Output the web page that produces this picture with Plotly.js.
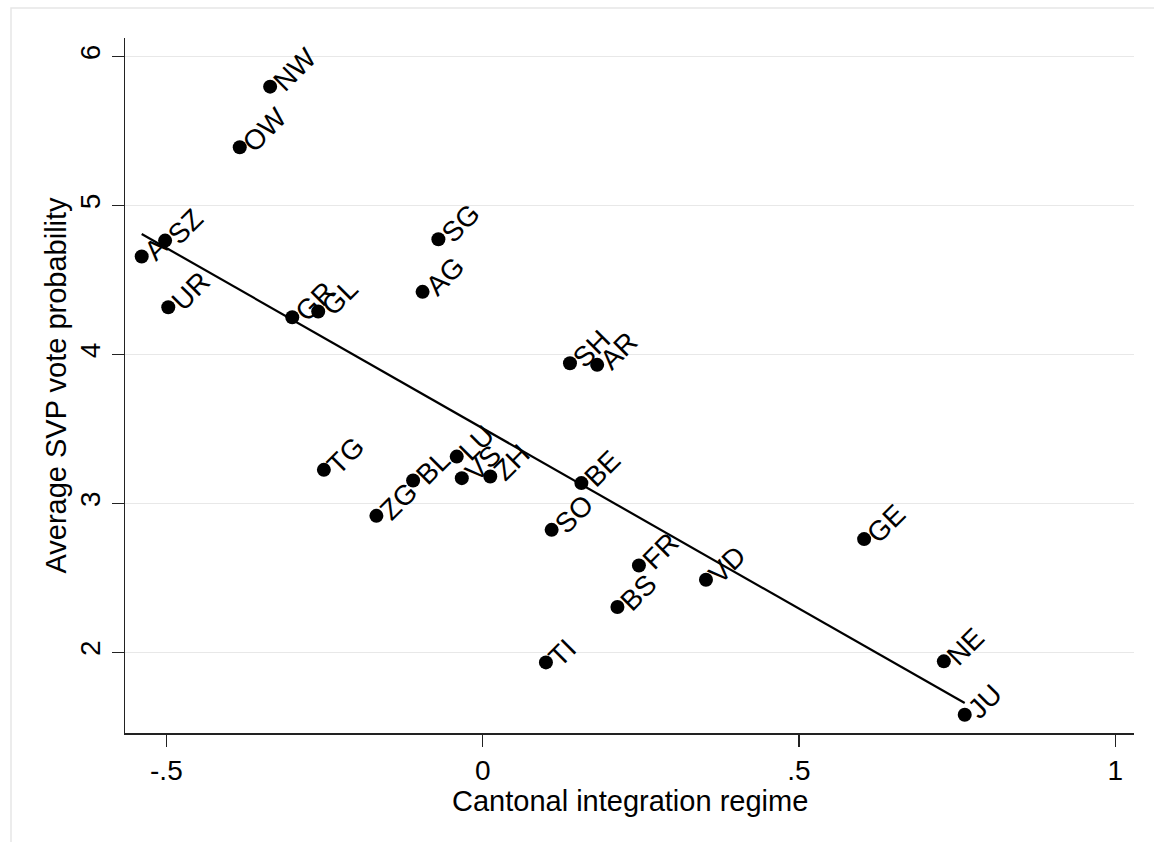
<!DOCTYPE html>
<html>
<head>
<meta charset="utf-8">
<script src="https://cdn.plot.ly/plotly-3.0.1.min.js"></script>
<style>
  html, body { margin: 0; padding: 0; background: #ffffff; }
  #chart { width: 1154px; height: 842px; }
</style>
</head>
<body>
<div id="chart"></div>
<script>
// ---- Data ----
const cantons = ["A","SZ","NW","OW","UR","GR","GL","SG","AG","SH","AR","TG","ZG","BL","LU","VS","ZH","BE","SO","FR","BS","TI","VD","GE","NE","JU"];
const integrationRegime = [-0.539,-0.502,-0.336,-0.384,-0.497,-0.301,-0.260,-0.070,-0.095,0.138,0.181,-0.251,-0.168,-0.110,-0.041,-0.033,0.012,0.156,0.109,0.247,0.213,0.100,0.353,0.603,0.729,0.762];
const svpProbability = [4.658,4.765,5.799,5.392,4.318,4.251,4.289,4.774,4.421,3.942,3.931,3.226,2.917,3.154,3.315,3.170,3.181,3.137,2.823,2.584,2.305,1.933,2.488,2.761,1.940,1.582];
const fitX = [-0.539, 0.762];
const fitY = [4.810, 1.660];
const xTickVals = [-0.5, 0, 0.5, 1];
const xTickText = ["-.5", "0", ".5", "1"];
const yTickVals = [2, 3, 4, 5, 6];
const yTickText = ["2", "3", "4", "5", "6"];
const xTitle = "Cantonal integration regime";
const yTitle = "Average SVP vote probability";

// ---- Styling ----
const FONT = "Liberation Sans, Arial, sans-serif";
const FS = 28;
const TITLE_FS = 29;
const LABEL_FS = 28;

const canvas = document.createElement("canvas");
const ctx = canvas.getContext("2d");
ctx.font = LABEL_FS + "px 'Liberation Sans'";
const c45 = Math.SQRT1_2;

// plot area geometry in pixels
const L = 125, R = 1134, T = 38, B = 733, W = 1154, H = 842;

const annotations = cantons.map((name, i) => {
  const w = ctx.measureText(name).width;
  const d = w / 2;
  return {
    x: integrationRegime[i], y: svpProbability[i], xref: "x", yref: "y",
    text: name, showarrow: false, textangle: -45,
    xanchor: "center", yanchor: "middle",
    xshift: 8 + d * c45, yshift: 1 + d * c45,
    font: {family: FONT, size: LABEL_FS, color: "#000000"}
  };
});

// x-axis title placed below the tick labels
annotations.push({
  x: 0.5, y: (B - 801) / (B - T), xref: "paper", yref: "paper",
  text: xTitle, showarrow: false, xanchor: "center", yanchor: "middle",
  font: {family: FONT, size: TITLE_FS, color: "#000000"}
});

const traces = [
  {
    x: integrationRegime, y: svpProbability, mode: "markers", type: "scatter",
    marker: {color: "#000000", size: 14, symbol: "circle"},
    hoverinfo: "skip", showlegend: false
  },
  {
    x: fitX, y: fitY, mode: "lines", type: "scatter",
    line: {color: "#000000", width: 2.2},
    hoverinfo: "skip", showlegend: false
  }
];

const layout = {
  width: W, height: H,
  margin: {l: L, r: W - R, t: T, b: H - B, pad: 0},
  paper_bgcolor: "#ffffff", plot_bgcolor: "#ffffff",
  showlegend: false,
  font: {family: FONT, size: FS, color: "#000000"},
  xaxis: {
    range: [-0.5654, 1.0296],
    tickvals: xTickVals, ticktext: xTickText,
    ticks: "outside", ticklen: 12, tickwidth: 1.3, tickcolor: "#222222",
    showline: true, linecolor: "#222222", linewidth: 1.5,
    showgrid: false, zeroline: false, automargin: false,
    tickfont: {family: FONT, size: FS, color: "#000000"}
  },
  yaxis: {
    range: [1.459, 6.1255],
    tickvals: yTickVals, ticktext: yTickText, tickangle: -90,
    ticks: "outside", ticklen: 12, tickwidth: 1.3, tickcolor: "#222222",
    showline: true, linecolor: "#222222", linewidth: 1.5,
    showgrid: true, gridcolor: "#e8e8e8", gridwidth: 1.6,
    zeroline: false, automargin: false,
    tickfont: {family: FONT, size: FS, color: "#000000"},
    title: {text: yTitle, font: {family: FONT, size: TITLE_FS, color: "#000000"}, standoff: 0}
  },
  shapes: [{
    type: "rect", xref: "paper", yref: "paper",
    x0: (11 - L) / (R - L), x1: 1.3,
    y0: -0.5, y1: (B - 8) / (B - T),
    line: {color: "#e6e6e6", width: 1.5}, fillcolor: "rgba(0,0,0,0)", layer: "below"
  }],
  annotations: annotations
};

Plotly.newPlot("chart", traces, layout, {displayModeBar: false, staticPlot: true});
</script>
</body>
</html>
